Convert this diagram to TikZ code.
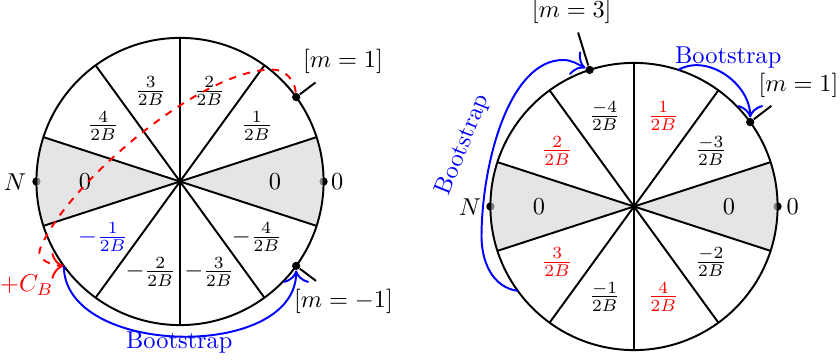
\documentclass[tikz,border=0pt]{standalone}
\usetikzlibrary{arrows.meta}
\begin{document}
\begin{tikzpicture}[x=0.41pt,y=0.41pt,
  shade/.style={fill=black!17,fill opacity=0.6},
  dotnode/.style={circle,fill=black,inner sep=0pt,minimum size=3.4pt},
  boot/.style={blue,thick,-{To[scale=1.5]}},
  redpath/.style={red,thick,dashed,-{To[scale=1.5]}},
  pinline/.style={thick},
]
\useasboundingbox (0,0) rectangle (840,361);
\def\R{143.6}
\def\r{95}
% ---------------- left circle ----------------
\begin{scope}[shift={(180,179.5)}]
  \node[dotnode] (lN) at (180:\R) {};
  \node[dotnode] (lZ) at (0:\R) {};
  \fill[shade] (0,0) -- (-18:\R) arc[start angle=-18,end angle=18,radius=\R] -- cycle;
  \fill[shade] (0,0) -- (162:\R) arc[start angle=162,end angle=198,radius=\R] -- cycle;
  \foreach \a in {18,54,126,162,198,234,306,342} \draw[thick] (0,0) -- (\a:\R);
  \draw[thick] (0,-\R) -- (0,\R);
  \draw[thick] (0,0) circle[radius=\R];
  \node (la0) at (0:\r) {$0$};
  \node (la36) at (36:\r) {$\frac{1}{2B}$};
  \node (la72) at (72:\r) {$\frac{2}{2B}$};
  \node (la108) at (108:\r) {$\frac{3}{2B}$};
  \node (la144) at (144:\r) {$\frac{4}{2B}$};
  \node (la180) at (180:\r) {$0$};
  \node[blue] (la216) at (216:\r) {$-\frac{1}{2B}$};
  \node (la252) at (252:\r) {$-\frac{2}{2B}$};
  \node (la288) at (288:\r) {$-\frac{3}{2B}$};
  \node (la324) at (324:\r) {$-\frac{4}{2B}$};
  \node[dotnode] (lm1) at (36:\R) {};
  \node[dotnode] (lmm1) at (-36:\R) {};
  \coordinate (lp216) at (216:\R);
\end{scope}
\node (lNlab) at (15,179.3) {$N$};
\node (lZlab) at (337.3,179.3) {$0$};
\node (lm1lab) at (343,299.3) {$[m=1]$};
\node (lmm1lab) at (343.5,59.3) {$[m=-1]$};
\draw[pinline] (lm1) -- (lm1lab);
\draw[pinline] (lmm1) -- (lmm1lab);
\node[red] (cb) at (26.7,76) {$+C_B$};
\coordinate (rA) at (272,291.5);
\coordinate (rB) at (40,112);
\draw[redpath] (lm1) to[out=95,in=0] (rA) .. controls (200,291.5) and (65,175) .. (rB) to[out=-112,in=180] (lp216);
\draw[boot] (lp216) to[out=-90,in=-90] (lmm1);
\node[blue] (lboot) at (179.3,18.3) {Bootstrap};
% ---------------- right circle ----------------
\begin{scope}[shift={(634,154.5)}]
  \node[dotnode] (rN) at (180:\R) {};
  \node[dotnode] (rZ) at (0:\R) {};
  \fill[shade] (0,0) -- (-18:\R) arc[start angle=-18,end angle=18,radius=\R] -- cycle;
  \fill[shade] (0,0) -- (162:\R) arc[start angle=162,end angle=198,radius=\R] -- cycle;
  \foreach \a in {18,54,126,162,198,234,306,342} \draw[thick] (0,0) -- (\a:\R);
  \draw[thick] (0,-\R) -- (0,\R);
  \draw[thick] (0,0) circle[radius=\R];
  \node (ra0) at (0:\r) {$0$};
  \node (ra36) at (36:\r) {$\frac{-3}{2B}$};
  \node[red] (ra72) at (72:\r) {$\frac{1}{2B}$};
  \node (ra108) at (108:\r) {$\frac{-4}{2B}$};
  \node[red] (ra144) at (144:\r) {$\frac{2}{2B}$};
  \node (ra180) at (180:\r) {$0$};
  \node[red] (ra216) at (216:\r) {$\frac{3}{2B}$};
  \node (ra252) at (252:\r) {$\frac{-1}{2B}$};
  \node[red] (ra288) at (288:\r) {$\frac{4}{2B}$};
  \node (ra324) at (324:\r) {$\frac{-2}{2B}$};
  \node[dotnode] (rm1) at (36:\R) {};
  \node[dotnode] (rm3) at (108:\R) {};
  \coordinate (rp72) at (72:\R);
  \coordinate (rp216) at (216:\R);
\end{scope}
\node (rNlab) at (470,154.3) {$N$};
\node (rZlab) at (792.7,154.3) {$0$};
\node (rm1lab) at (798.5,276) {$[m=1]$};
\node (rm3lab) at (571.7,349.3) {$[m=3]$};
\draw[pinline] (rm1) -- (rm1lab);
\draw[pinline] (rm3) -- (rm3lab);
\draw[boot] (rp72) to[out=30,in=90] (rm1);
\node[blue] (rboot1) at (728.3,303.7) {Bootstrap};
\coordinate (bL) at (481.5,125);
\coordinate (bT) at (563,301);
\draw[boot] (rp216) to[out=172,in=-90] (bL) .. controls (482,200) and (510,301) .. (bT) to[out=0,in=155] (rm3);
\node[blue,rotate=68] (rboot2) at (463.3,216) {Bootstrap};
\end{tikzpicture}
\end{document}
